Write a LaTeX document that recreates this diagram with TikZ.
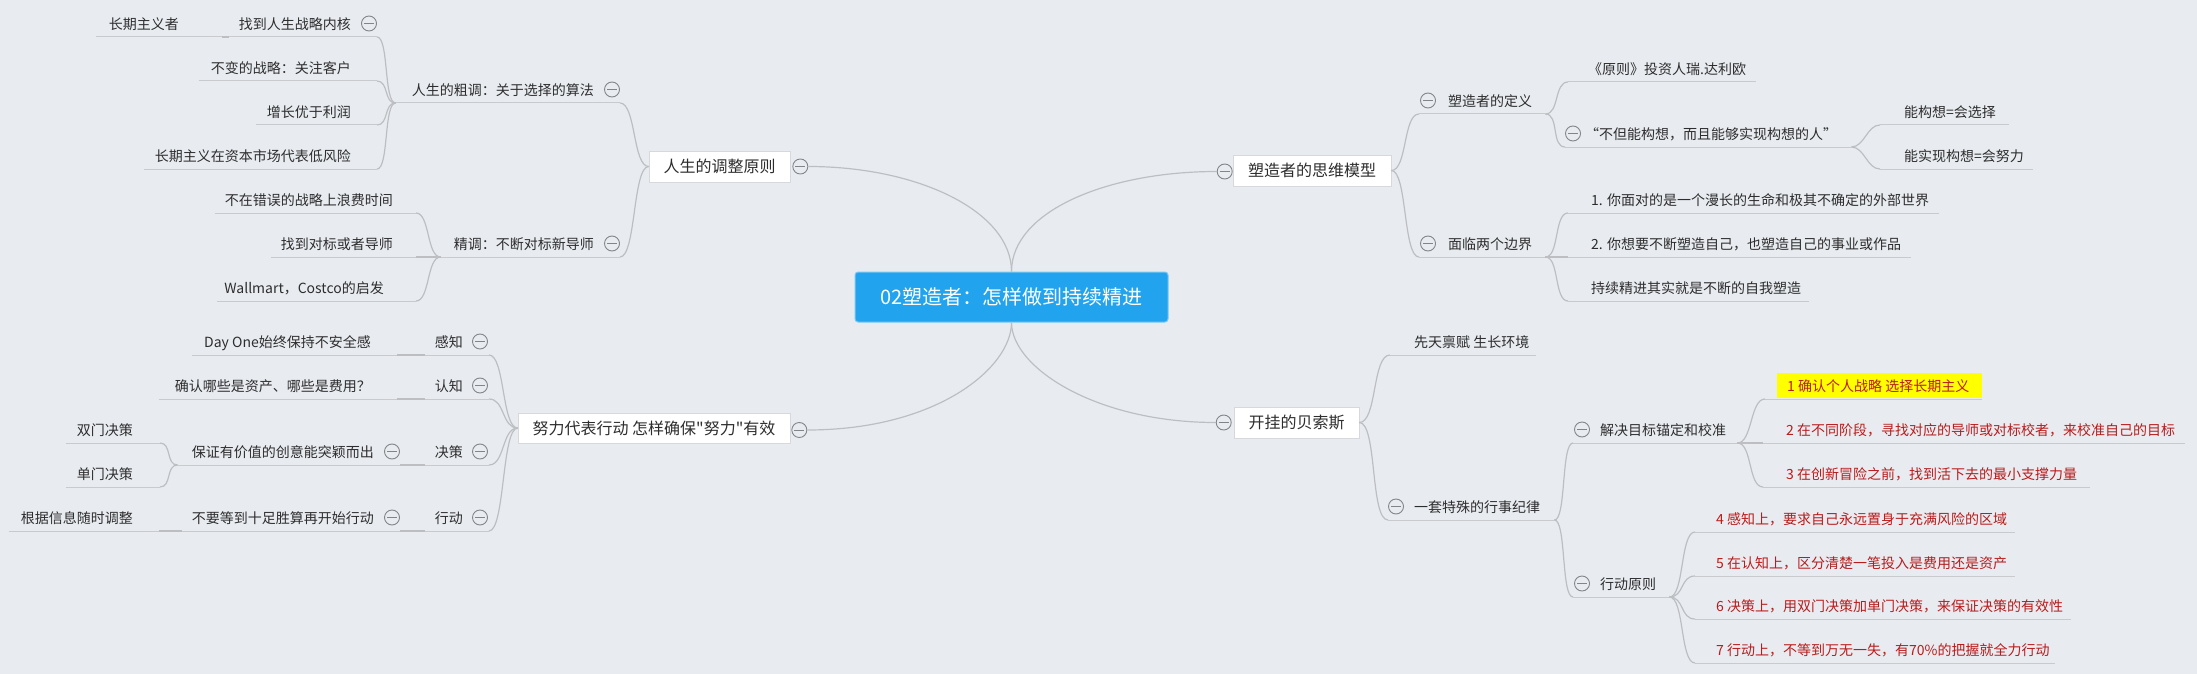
\documentclass[tikz,border=0pt]{standalone}
\usepackage{fontspec}
\newfontfamily\cjk{Noto Sans CJK SC}
\usetikzlibrary{calc,backgrounds,shadows}
\definecolor{bgc}{RGB}{232,236,241}
\definecolor{txtc}{RGB}{45,45,45}
\definecolor{redc}{RGB}{185,28,28}
\definecolor{linec}{RGB}{188,190,194}
\definecolor{ulc}{RGB}{200,202,206}
\definecolor{togc}{RGB}{130,132,136}
\definecolor{boxc}{RGB}{214,216,220}
\definecolor{bluec}{RGB}{33,163,238}
\definecolor{hly}{RGB}{255,255,0}
\newcommand\mmfs[1]{\fontsize{#1}{#1}\selectfont}
\newcommand\mmL[6]{\node[lnode,#6] (#1) at (#2) {\kern#3pt#4\kern#5pt\relax};}
\newcommand\mmR[6]{\node[rnode,#6] (#1) at (#2) {\kern#3pt#4\kern#5pt\relax};}
\tikzset{
  mmtext/.style={font=\cjk\mmfs{14}, text=txtc, inner xsep=0pt, inner ysep=0pt,
    text height=12pt, text depth=7.5pt,
    append after command={(\tikzlastnode.south west) edge[ul] (\tikzlastnode.south east)}},
  lnode/.style={mmtext, anchor=south east},
  rnode/.style={mmtext, anchor=south west},
  rednode/.style={text=redc},
  ul/.style={draw=ulc, line width=1pt},
  conn/.style={draw=linec, line width=1.2pt},
  tog/.style={circle, draw=togc, fill=bgc, minimum size=15pt, inner sep=0pt, line width=0.9pt,
    path picture={\draw[togc, line width=0.9pt] ([xshift=-5pt]path picture bounding box.center) -- ([xshift=5pt]path picture bounding box.center);}},
  mainbox/.style={rectangle, fill=white, draw=boxc, line width=0.6pt, font=\cjk\mmfs{16}, text=txtc, inner sep=0pt,
    drop shadow={opacity=0.10, shadow xshift=1pt, shadow yshift=-1pt}},
  centerbox/.style={rectangle, rounded corners=3pt, fill=bluec, draw=bluec!60!white, line width=1pt, font=\cjk\mmfs{20}, text=white, inner sep=0pt}
}
\begin{document}
\begin{tikzpicture}[x=1pt,y=-1pt]
\useasboundingbox (0,0) rectangle (2197,674);
\begin{scope}[on background layer]
\fill[bgc] (0,0) rectangle (2197,674);
\end{scope}

% central
\node[centerbox, minimum width=313pt, minimum height=50pt] (c) at (1011.5,297) {02塑造者：怎样做到持续精进};

% main boxes
\node[mainbox, minimum width=141pt, minimum height=31pt] (n1) at (719.5,166.5) {人生的调整原则};
\node[mainbox, minimum width=158pt, minimum height=31pt] (n2) at (1312,170.5) {塑造者的思维模型};
\node[mainbox, minimum width=272pt, minimum height=30pt] (n3) at (654,428) {努力代表行动 怎样确保"努力"有效};
\node[mainbox, minimum width=125pt, minimum height=31pt] (n4) at (1296.5,422.5) {开挂的贝索斯};
\node[tog] (n1t) at ($(n1.east)+(10,0)$) {};
\node[tog] (n2t) at ($(n2.west)+(-8,1)$) {};
\node[tog] (n3t) at ($(n3.east)+(9,2)$) {};
\node[tog] (n4t) at ($(n4.west)+(-10,0)$) {};

% left top branch
\mmL{n11}{620,103}{16}{人生的粗调：关于选择的算法}{26}{}
\mmL{n111}{377,37}{10}{找到人生战略内核}{26}{}
\mmL{n1111}{222,37}{13}{长期主义者}{43}{}
\mmL{n112}{377,81}{12}{不变的战略：关注客户}{26}{}
\mmL{n113}{377,125}{11}{增长优于利润}{26}{}
\mmL{n114}{377,169}{11}{长期主义在资本市场代表低风险}{26}{}
\mmL{n12}{620,257}{13}{精调：不断对标新导师}{26}{}
\mmL{n121}{416,213}{10}{不在错误的战略上浪费时间}{23}{}
\mmL{n122}{416,257}{10}{找到对标或者导师}{23}{}
\mmL{n123}{416,301}{7}{Wallmart，Costco的启发}{32}{}
\node[tog] (n11t) at ($(n11.south east)+(-8,-13.5)$) {};
\node[tog] (n111t) at ($(n111.south east)+(-8,-13.5)$) {};
\node[tog] (n12t) at ($(n12.south east)+(-8,-13.5)$) {};

% left bottom branch
\mmL{n31}{489,355}{10}{感知}{26}{}
\mmL{n311}{397,355}{12}{Day One始终保持不安全感}{26}{}
\mmL{n32}{489,399}{10}{认知}{26}{}
\mmL{n321}{397,399}{16}{确认哪些是资产、哪些是费用？}{26}{}
\mmL{n33}{489,465}{10}{决策}{26}{}
\mmL{n331}{400,465}{14}{保证有价值的创意能突颖而出}{26}{}
\mmL{n3311}{160,443}{11}{双门决策}{27}{}
\mmL{n3312}{160,487}{11}{单门决策}{27}{}
\mmL{n34}{489,531}{10}{行动}{26}{}
\mmL{n341}{400,531}{10}{不要等到十足胜算再开始行动}{26}{}
\mmL{n3411}{159,531}{12}{根据信息随时调整}{26}{}
\node[tog] (n31t) at ($(n31.south east)+(-9,-13.5)$) {};
\node[tog] (n32t) at ($(n32.south east)+(-9,-13.5)$) {};
\node[tog] (n33t) at ($(n33.south east)+(-9,-13.5)$) {};
\node[tog] (n34t) at ($(n34.south east)+(-9,-13.5)$) {};
\node[tog] (n331t) at ($(n331.south east)+(-8,-13.5)$) {};
\node[tog] (n341t) at ($(n341.south east)+(-8,-13.5)$) {};

% right top branch
\mmR{n21}{1419,114}{29}{塑造者的定义}{13}{}
\mmR{n211}{1568,82}{20}{《原则》投资人瑞.达利欧}{10}{}
\mmR{n212}{1565,147}{20}{“不但能构想，而且能够实现构想的人”}{14}{}
\mmR{n2121}{1880,125}{24}{能构想=会选择}{13}{}
\mmR{n2122}{1880,169}{24}{能实现构想=会努力}{9}{}
\mmR{n22}{1419,257}{29}{面临两个边界}{13}{}
\mmR{n221}{1568,213}{23}{1. 你面对的是一个漫长的生命和极其不确定的外部世界}{10}{}
\mmR{n222}{1568,257}{23}{2. 你想要不断塑造自己，也塑造自己的事业或作品}{10}{}
\mmR{n223}{1568,301}{23}{持续精进其实就是不断的自我塑造}{8}{}
\node[tog] (n21t) at ($(n21.south west)+(9,-13.5)$) {};
\node[tog] (n212t) at ($(n212.south west)+(8,-13.5)$) {};
\node[tog] (n22t) at ($(n22.south west)+(9,-13.5)$) {};

% right bottom branch
\mmR{n41}{1390,355}{24}{先天禀赋 生长环境}{6}{}
\mmR{n42}{1388,520}{26}{一套特殊的行事纪律}{14}{}
\mmR{n421}{1573,443}{27}{解决目标锚定和校准}{11}{}
\mmR{n4211}{1765,399}{22}{1 确认个人战略 选择长期主义}{13}{rednode}
\mmR{n4212}{1763,443}{23}{2 在不同阶段，寻找对应的导师或对标校者，来校准自己的目标}{10}{rednode}
\mmR{n4213}{1763,487}{23}{3 在创新冒险之前，找到活下去的最小支撑力量}{13}{rednode}
\mmR{n422}{1573,597}{27}{行动原则}{13}{}
\mmR{n4221}{1695,532}{21}{4 感知上，要求自己永远置身于充满风险的区域}{8}{rednode}
\mmR{n4222}{1695,576}{21}{5 在认知上，区分清楚一笔投入是费用还是资产}{8}{rednode}
\mmR{n4223}{1695,619}{21}{6 决策上，用双门决策加单门决策，来保证决策的有效性}{8}{rednode}
\mmR{n4224}{1695,663}{21}{7 行动上，不等到万无一失，有70\%的把握就全力行动}{5}{rednode}
\node[tog] (n42t) at ($(n42.south west)+(8,-13.5)$) {};
\node[tog] (n421t) at ($(n421.south west)+(9,-13.5)$) {};
\node[tog] (n422t) at ($(n422.south west)+(9,-13.5)$) {};

\begin{scope}[on background layer]
\fill[hly] ($(n4211.south west)+(12,-1)$) rectangle ($(n4211.south east)+(0,-26)$);
\end{scope}

% center connectors
\draw[conn] (n1t.east) .. controls +(110,0) and +(0,-60) .. (c.north);
\draw[conn] (c.north) .. controls +(0,-60) and +(-110,0) .. (n2t.west);
\draw[conn] (c.south) .. controls +(0,45) and +(130,0) .. (n3t.east);
\draw[conn] (c.south) .. controls +(0,45) and +(-120,0) .. (n4t.west);

% left connectors
\foreach \k in {n11,n12}{\draw[conn] (n1.west) .. controls +(-16,0) and +(16,0) .. (\k.south east);}
\foreach \k in {n111,n112,n113,n114}{\draw[conn] (n11.south west) .. controls +(-12,0) and +(12,0) .. (\k.south east);}
\draw[conn] (n111.south west) -- (n1111.south east);
\foreach \k in {n121,n122,n123}{\draw[conn] (n12.south west) .. controls +(-14,0) and +(14,0) .. (\k.south east);}
\foreach \k in {n31,n32,n33,n34}{\draw[conn] (n3.west) .. controls +(-16,0) and +(16,0) .. (\k.south east);}
\draw[conn] (n31.south west) -- (n311.south east);
\draw[conn] (n32.south west) -- (n321.south east);
\draw[conn] (n33.south west) -- (n331.south east);
\draw[conn] (n34.south west) -- (n341.south east);
\draw[conn] (n341.south west) -- (n3411.south east);
\foreach \k in {n3311,n3312}{\draw[conn] (n331.south west) .. controls +(-12,0) and +(12,0) .. (\k.south east);}

% right connectors
\foreach \k in {n21,n22}{\draw[conn] (n2.east) .. controls +(16,0) and +(-16,0) .. (\k.south west);}
\foreach \k in {n211,n212}{\draw[conn] (n21.south east) .. controls +(14,0) and +(-14,0) .. (\k.south west);}
\foreach \k in {n2121,n2122}{\draw[conn] (n212.south east) .. controls +(13,0) and +(-13,0) .. (\k.south west);}
\foreach \k in {n221,n222,n223}{\draw[conn] (n22.south east) .. controls +(14,0) and +(-14,0) .. (\k.south west);}
\foreach \k in {n41,n42}{\draw[conn] (n4.east) .. controls +(18,0) and +(-18,0) .. (\k.south west);}
\foreach \k in {n421,n422}{\draw[conn] (n42.south east) .. controls +(12,0) and +(-12,0) .. (\k.south west);}
\foreach \k in {n4211,n4212,n4213}{\draw[conn] (n421.south east) .. controls +(15,0) and +(-15,0) .. (\k.south west);}
\foreach \k in {n4221,n4222,n4223,n4224}{\draw[conn] (n422.south east) .. controls +(15,0) and +(-15,0) .. (\k.south west);}
\end{tikzpicture}
\end{document}
